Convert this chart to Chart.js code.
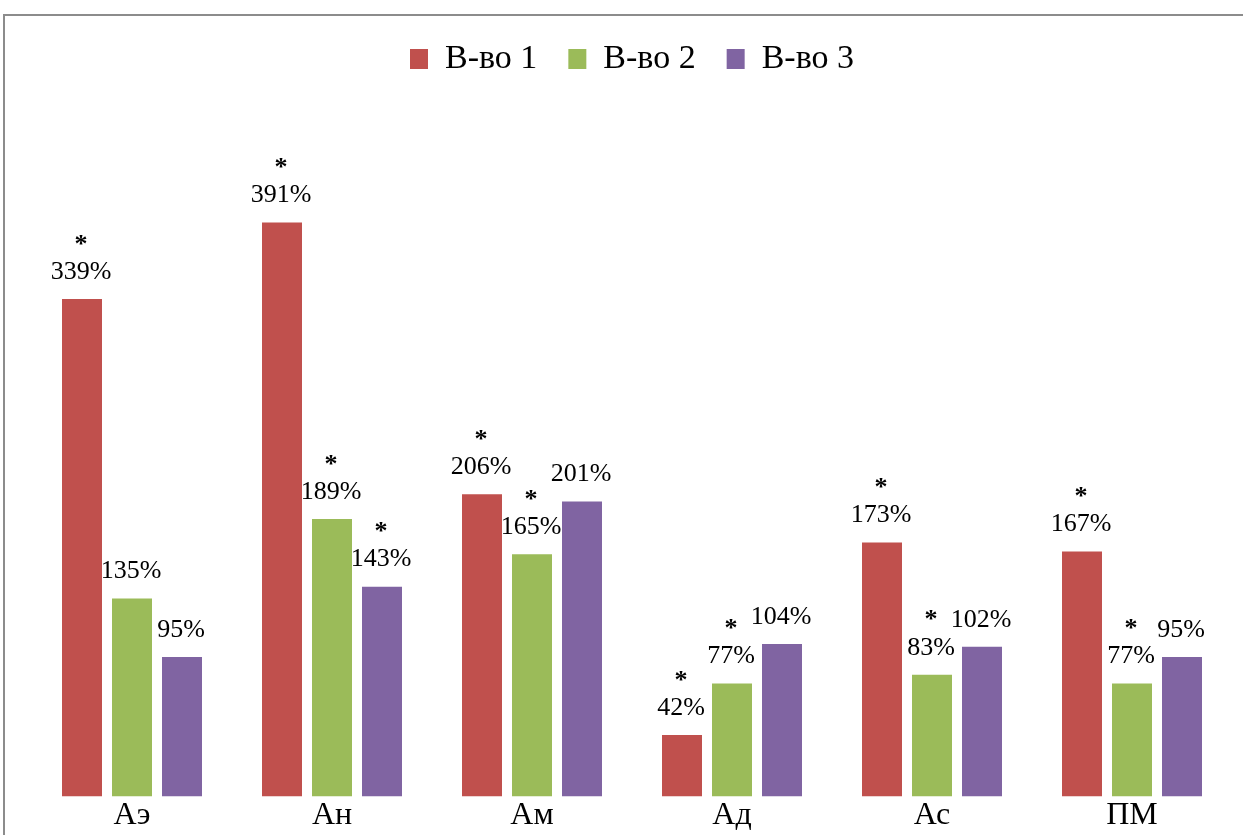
<!DOCTYPE html>
<html>
<head>
<meta charset="utf-8">
<script src="https://cdn.jsdelivr.net/npm/chart.js@4.4.1/dist/chart.umd.min.js"></script>
<style>
  html, body { margin: 0; padding: 0; background: #fff; overflow: hidden; }
  #ramka {
    position: absolute; left: 3px; top: 14px; width: 1300px; height: 900px;
    border-top: 2px solid #8c8c8c; border-left: 2px solid #8c8c8c;
  }
  #wrap { position: absolute; left: 0; top: 0; width: 1243px; height: 835px; }
</style>
</head>
<body>
<div id="ramka"></div>
<div id="wrap"><canvas id="grafico"></canvas></div>
<script>
// === DADOS ===
const categorias = ["Аэ", "Ан", "Ам", "Ад", "Ас", "ПМ"];
const serie1 = [339, 391, 206, 42, 173, 167];
const serie2 = [135, 189, 165, 77, 83, 77];
const serie3 = [95, 143, 201, 104, 102, 95];
// asterisco (*) acima do rótulo
const ast1 = [true, true, true, true, true, true];
const ast2 = [false, true, true, true, true, true];
const ast3 = [false, true, false, false, false, false];
const nomes = ["В-во 1", "В-во 2", "В-во 3"];
const cores = ["#C0504D", "#9BBB59", "#8064A2"];

const FONTE = "'Liberation Serif', 'Times New Roman', serif";

// rótulos de valor + asteriscos
const rotulos = {
  id: "rotulos",
  afterDatasetsDraw(chart) {
    const ctx = chart.ctx;
    const asts = [ast1, ast2, ast3];
    ctx.save();
    ctx.fillStyle = "#000";
    ctx.textAlign = "center";
    ctx.textBaseline = "middle";
    chart.data.datasets.forEach((ds, i) => {
      const meta = chart.getDatasetMeta(i);
      meta.data.forEach((bar, j) => {
        ctx.font = "26px " + FONTE;
        ctx.fillText(ds.data[j] + "%", bar.x - 1, bar.y - 27);
        if (asts[i][j]) {
          ctx.font = "bold 26px " + FONTE;
          ctx.fillText("*", bar.x - 1, bar.y - 54);
        }
      });
    });
    ctx.restore();
  }
};

const ctx = document.getElementById("grafico").getContext("2d");
new Chart(ctx, {
  type: "bar",
  data: {
    labels: categorias,
    datasets: [serie1, serie2, serie3].map((d, i) => ({
      label: nomes[i],
      data: d,
      backgroundColor: cores[i],
      categoryPercentage: 0.75,
      barPercentage: 0.8
    }))
  },
  options: {
    responsive: true,
    maintainAspectRatio: false,
    animation: false,
    layout: { padding: { left: 32, right: 11, top: 11, bottom: 0 } },
    plugins: {
      legend: {
        position: "top",
        labels: {
          color: "#000",
          font: { family: FONTE, size: 34 },
          boxWidth: 18,
          boxHeight: 20,
          padding: 31
        }
      },
      tooltip: { enabled: false }
    },
    scales: {
      y: { display: false, min: 0, max: 484 },
      x: {
        grid: { display: false, drawTicks: false },
        border: { display: false },
        ticks: { color: "#000", font: { family: FONTE, size: 32 }, padding: 0 }
      }
    }
  },
  plugins: [rotulos]
});
</script>
</body>
</html>
